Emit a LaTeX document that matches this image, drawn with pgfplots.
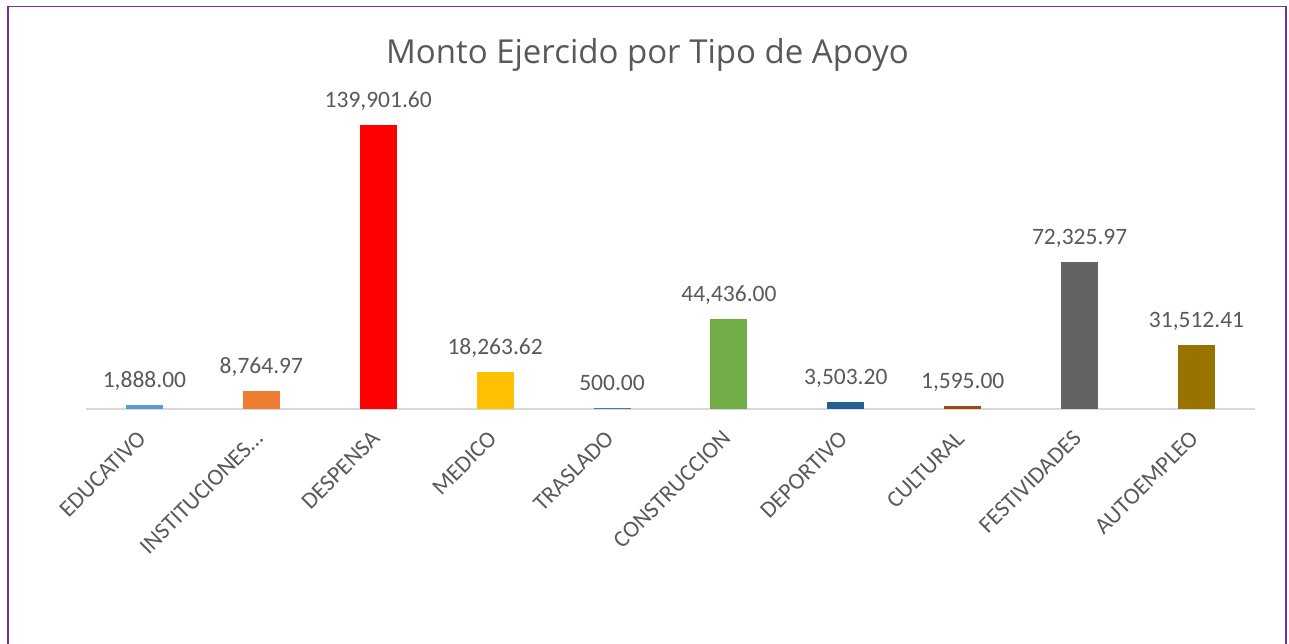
\documentclass[border=0pt]{standalone}
\usepackage{pgfplots}
\pgfplotsset{compat=1.18}
\usepackage{fontspec}
\setmainfont{Carlito}
\newfontfamily\titlefont{Open Sans}
\definecolor{textgray}{HTML}{595959}
\definecolor{axgray}{HTML}{D9D9D9}
\definecolor{framepurple}{HTML}{7030A0}
\definecolor{c1}{HTML}{5B9BD5}
\definecolor{c2}{HTML}{ED7D31}
\definecolor{c3}{HTML}{FF0000}
\definecolor{c4}{HTML}{FFC000}
\definecolor{c5}{HTML}{4472C4}
\definecolor{c6}{HTML}{70AD47}
\definecolor{c7}{HTML}{255E91}
\definecolor{c8}{HTML}{9E480E}
\definecolor{c9}{HTML}{636363}
\definecolor{c10}{HTML}{997300}
\begin{document}
\begin{tikzpicture}
\useasboundingbox (0pt,0pt) rectangle (1289pt,-643pt);
\draw[framepurple, line width=1.6pt] (8pt,-700pt) -- (8pt,-6.5pt) -- (1286pt,-6.5pt) -- (1286pt,-700pt);
\node[anchor=base, text=textgray, font=\titlefont\fontsize{33}{40}\selectfont, inner sep=0pt] at (647.5pt,-63pt) {Monto Ejercido por Tipo de Apoyo};
\begin{axis}[
  at={(86pt,-409pt)}, anchor=south west,
  scale only axis, width=1169pt, height=324.8pt,
  xmin=-0.5, xmax=9.5, ymin=0, ymax=160000,
  clip=false,
  axis y line=none, axis x line*=bottom,
  x axis line style={draw=axgray, line width=1.6pt},
  ytick=\empty,
  xtick={0,1,2,3,4,5,6,7,8,9},
  xticklabels={EDUCATIVO,INSTITUCIONES…,DESPENSA,MEDICO,TRASLADO,CONSTRUCCION,DEPORTIVO,CULTURAL,FESTIVIDADES,AUTOEMPLEO},
  major tick length=0pt,
  xtick style={draw=none},
  xticklabel shift=20pt,
  xticklabel style={xshift=-8pt, rotate=45, anchor=north east, inner sep=0pt, text=textgray, font=\fontsize{23.5}{28}\selectfont},
  ybar, bar width=37pt, bar shift=0pt,
  /pgf/number format/assume math mode=true,
  nodes near coords={\pgfmathprintnumber[fixed, fixed zerofill, precision=2, 1000 sep={,}]{\pgfplotspointmeta}},
  every node near coord/.append style={anchor=base, inner sep=0pt, yshift=17.7pt, text=textgray, font=\fontsize{23.5}{28}\selectfont},
]
\addplot[fill=c1, draw=none] coordinates {(0,1888.00)};
\addplot[fill=c2, draw=none] coordinates {(1,8764.97)};
\addplot[fill=c3, draw=none] coordinates {(2,139901.60)};
\addplot[fill=c4, draw=none] coordinates {(3,18263.62)};
\addplot[fill=c5, draw=none] coordinates {(4,500.00)};
\addplot[fill=c6, draw=none] coordinates {(5,44436.00)};
\addplot[fill=c7, draw=none] coordinates {(6,3503.20)};
\addplot[fill=c8, draw=none] coordinates {(7,1595.00)};
\addplot[fill=c9, draw=none] coordinates {(8,72325.97)};
\addplot[fill=c10, draw=none] coordinates {(9,31512.41)};
\end{axis}
\end{tikzpicture}
\end{document}
